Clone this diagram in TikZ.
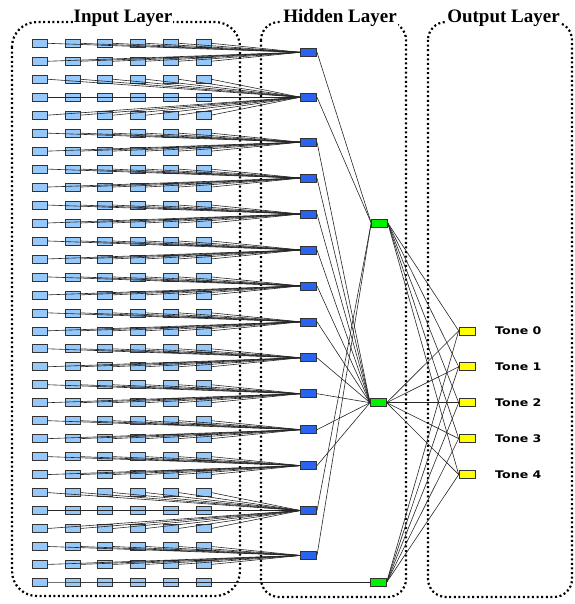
\documentclass[tikz,border=0pt]{standalone}
\usepackage{fontspec}
\setmainfont{Liberation Serif}
\newfontfamily\tonefont{DejaVu Sans}
\definecolor{inblue}{RGB}{150,200,250}
\definecolor{hidblue}{RGB}{40,100,240}
\definecolor{grn}{RGB}{0,240,0}
\definecolor{yel}{RGB}{255,255,0}
\begin{document}
\begin{tikzpicture}[x=1pt,y=-1pt,
  layerbox/.style={line width=2.2pt, dash pattern=on 2pt off 2.6pt, black},
  unit/.style={draw=black!80, line width=0.6pt, inner sep=0pt, minimum height=8pt},
  inbox/.style={unit, fill=inblue, minimum width=15pt},
  hidbox/.style={unit, fill=hidblue, minimum width=16pt},
  grnbox/.style={unit, fill=grn, minimum width=16pt},
  yelbox/.style={unit, fill=yel, minimum width=16pt},
  conn/.style={black!85, line width=0.6pt},
  title/.style={fill=white, inner sep=1pt, anchor=base, font=\fontsize{19}{19}\selectfont\bfseries},
  tone/.style={anchor=west, inner sep=0pt, xscale=1.2, font=\tonefont\fontsize{10.5}{10.5}\selectfont\bfseries}
]
\useasboundingbox (0,0) rectangle (574,604);

% layer frames
\draw[layerbox, rounded corners=25pt] (12,22) rectangle (240,596);
\draw[layerbox, rounded corners=18pt] (261,22) rectangle (406,597);
\draw[layerbox, rounded corners=18pt] (428,22) rectangle (572,597);
\node[title] (tin) at (123,23) {Input Layer};
\node[title] (thid) at (340,23) {Hidden Layer};
\node[title] (tout) at (503.5,23) {Output Layer};

% input units
\foreach \r in {1,...,31}{
  \foreach \c in {0,...,5}{
    \pgfmathsetmacro\xx{39.8+32.7*\c}
    \pgfmathsetmacro\yy{43.3+17.97*(\r-1)}
    \node[inbox] (i-\r-\c) at (\xx,\yy) {};
  }
}

% hidden units
\foreach \k/\yy in {1/52.29, 2/97.21, 3/142.14, 4/178.08, 5/214.0, 6/249.96, 7/285.9,
  8/321.84, 9/357.78, 10/393.7, 11/429.66, 12/465.6, 13/510.52, 14/555.45}{
  \node[hidbox] (h\k) at (308.7,\yy) {};
}
\node[grnbox] (g1) at (379.5,223.0) {};
\node[grnbox] (g2) at (378.3,402.7) {};
\node[grnbox] (g3) at (378.3,582.4) {};

% output units
\foreach \k/\yy in {0/330.82, 1/366.76, 2/402.7, 3/438.64, 4/474.58}{
  \node[yelbox] (o\k) at (467,\yy) {};
  \node[tone] (t\k) at (495,\yy) {Tone \k};
}

% input -> hidden
\foreach \r/\h in {1/h1,2/h1,3/h2,4/h2,5/h2,6/h3,7/h3,8/h4,9/h4,10/h5,11/h5,
  12/h6,13/h6,14/h7,15/h7,16/h8,17/h8,18/h9,19/h9,20/h10,21/h10,22/h11,23/h11,
  24/h12,25/h12,26/h13,27/h13,28/h13,29/h14,30/h14,31/g3}{
  \foreach \c in {0,...,5}{
    \draw[conn] (i-\r-\c.east) -- (\h.west);
  }
}

% hidden -> second hidden
\foreach \h in {1,2,13,14}{ \draw[conn] (h\h.east) -- (g1.west); }
\foreach \h in {3,...,12}{ \draw[conn] (h\h.east) -- (g2.west); }

% second hidden -> output
\foreach \g in {1,2,3}{
  \foreach \k in {0,...,4}{
    \draw[conn] (g\g.east) -- (o\k.west);
  }
}
\end{tikzpicture}
\end{document}
